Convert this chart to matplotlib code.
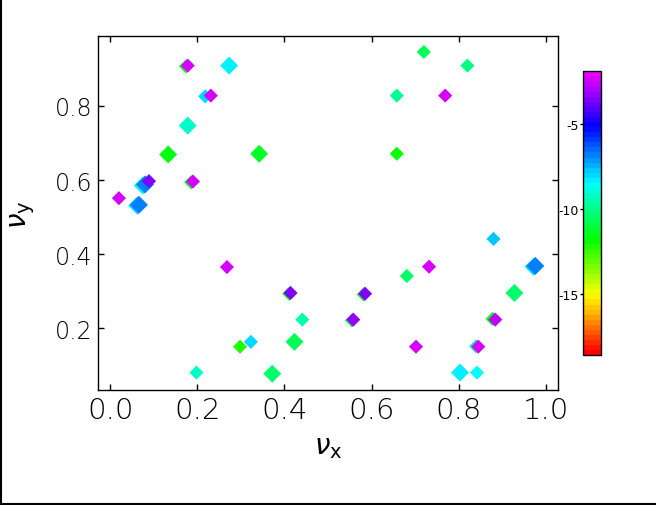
import numpy as np
import matplotlib
matplotlib.use("Agg")
import matplotlib.pyplot as plt
from matplotlib.colors import ListedColormap
from matplotlib.lines import Line2D

# tune points: nu_x, nu_y, value (colour) and marker size (back layers first)
nux = [0.174, 0.178, 0.273, 0.218, 0.231, 0.178, 0.133, 0.342,
       0.075, 0.080, 0.089, 0.186, 0.190, 0.020, 0.062, 0.066,
       0.268, 0.411, 0.414, 0.441, 0.423, 0.323, 0.298, 0.198,
       0.372, 0.720, 0.820, 0.658, 0.769, 0.658, 0.880, 0.972,
       0.976, 0.732, 0.681, 0.582, 0.585, 0.928, 0.555, 0.558,
       0.878, 0.884, 0.702, 0.840, 0.845, 0.803, 0.842]
nuy = [0.907, 0.909, 0.909, 0.826, 0.828, 0.747, 0.669, 0.671,
       0.585, 0.588, 0.597, 0.594, 0.596, 0.551, 0.531, 0.533,
       0.365, 0.293, 0.295, 0.223, 0.163, 0.163, 0.150, 0.080,
       0.077, 0.946, 0.909, 0.828, 0.828, 0.671, 0.441, 0.366,
       0.368, 0.366, 0.341, 0.291, 0.293, 0.295, 0.221, 0.223,
       0.225, 0.223, 0.150, 0.151, 0.150, 0.080, 0.080]
val = [-11.8, -2.3, -8.3, -8.0, -2.3, -9.2, -11.6, -11.2,
       -8.2, -6.9, -3.5, -11.5, -2.4, -2.2, -8.0, -6.8,
       -2.3, -11.5, -3.4, -9.4, -10.8, -8.0, -12.2, -9.1,
       -10.3, -10.8, -10.0, -9.8, -2.3, -12.0, -7.8, -8.0,
       -6.8, -2.4, -10.3, -11.5, -3.5, -10.5, -11.0, -3.3,
       -11.5, -2.5, -2.4, -9.5, -2.3, -8.3, -8.5]
big = [0, 0, 1, 0, 0, 1, 1, 1,
       1, 1, 0, 0, 0, 0, 1, 1,
       0, 0, 0, 0, 1, 0, 0, 0,
       1, 0, 0, 0, 0, 0, 0, 1,
       1, 0, 0, 0, 0, 1, 0, 0,
       0, 0, 0, 0, 0, 1, 0]

xticks = [0.0, 0.2, 0.4, 0.6, 0.8, 1.0]
yticks = [0.2, 0.4, 0.6, 0.8]
cticks = [-15, -10, -5]
vmin, vmax = -18.6, -1.9

# rainbow from red to magenta, in bands
cmap = ListedColormap(plt.cm.hsv(np.linspace(0.0, 0.835, 56)))

fig = plt.figure(figsize=(6.56, 5.06), dpi=100)
ax = fig.add_axes([0.1494, 0.2273, 0.7012, 0.6996])

sizes = [84 if b else 52 for b in big]
sc = ax.scatter(nux, nuy, c=val, s=sizes, marker='D', cmap=cmap,
                vmin=vmin, vmax=vmax, linewidths=0)

ax.set_xlim(-0.028, 1.028)
ax.set_ylim(0.033, 0.989)
ax.set_xticks(xticks)
ax.set_yticks(yticks)
ax.set_xticklabels([f'{t:.1f}' for t in xticks], fontsize=21, fontweight='light')
ax.set_yticklabels([f'{t:.1f}' for t in yticks], fontsize=17, fontweight='light')
ax.tick_params(direction='in', length=4, width=1, top=True, right=True)
ax.tick_params(axis='x', pad=4)
ax.tick_params(axis='y', pad=4)
for sp in ax.spines.values():
    sp.set_linewidth(1)

fig.text(0.50, 0.117, r'$\nu_{\mathrm{x}}$', fontsize=20, ha='center', va='center')
fig.text(0.034, 0.575, r'$\nu_{\mathrm{y}}$', fontsize=20, ha='center', va='center',
         rotation=90)

# colorbar on the right, labels on the left side
cax = fig.add_axes([0.889, 0.296, 0.0274, 0.561])
cb = fig.colorbar(sc, cax=cax)
cb.set_ticks(cticks)
cb.set_ticklabels([str(t) for t in cticks])
cax.yaxis.set_ticks_position('left')
cax.yaxis.set_label_position('left')
cax.tick_params(length=2, width=1, labelsize=9, pad=1)
cb.outline.set_linewidth(1)

# frame lines at left and bottom of the figure
fig.add_artist(Line2D([0.001, 0.001], [0, 1], color='black', lw=1.5))
fig.add_artist(Line2D([0, 1], [0.002, 0.002], color='black', lw=1.5))

plt.savefig('out.png', dpi=100)
